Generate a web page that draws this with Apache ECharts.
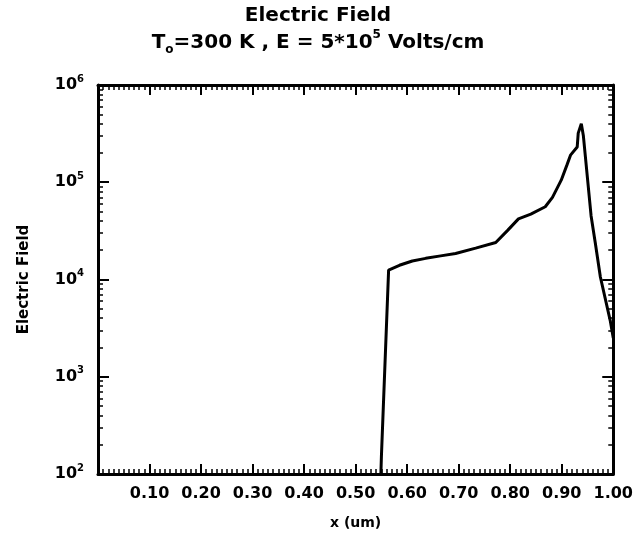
<!DOCTYPE html>
<html>
<head>
<meta charset="utf-8">
<script src="https://cdn.jsdelivr.net/npm/echarts@6/dist/echarts.min.js"></script>
<style>html,body{margin:0;padding:0;background:#fff;}#chart{width:636px;height:549px;}</style>
</head>
<body>
<div id="chart"></div>
<script>
// x position (um)
const xValues = [0.549, 0.550, 0.564, 0.585, 0.610, 0.636, 0.665, 0.694, 0.733, 0.772, 0.795, 0.816, 0.840, 0.868, 0.882, 0.899, 0.910, 0.917, 0.930, 0.932, 0.938, 0.942, 0.957, 0.965, 0.975, 0.994, 1.000];
// Electric field values
const fieldValues = [100, 150, 12500, 14000, 15500, 16500, 17500, 18500, 21000, 24000, 32000, 42000, 47000, 56000, 70000, 105000, 150000, 190000, 230000, 320000, 400000, 300000, 45000, 24000, 10600, 3800, 2500];
// axis tick labels
const xTickLabels = ['0.10','0.20','0.30','0.40','0.50','0.60','0.70','0.80','0.90','1.00'];
const yDecades = [100, 1000, 10000, 100000, 1000000];
// minor log ticks (2..9 times each decade)
const yMinorTicks = [200,300,400,500,600,700,800,900,2000,3000,4000,5000,6000,7000,8000,9000,20000,30000,40000,50000,60000,70000,80000,90000,200000,300000,400000,500000,600000,700000,800000,900000];

const FONT = 'DejaVu Sans';
const minorExp = yMinorTicks.map(v => Math.log10(v));

const chart = echarts.init(document.getElementById('chart'), null, {renderer: 'canvas'});
const axisLine = {show: true, onZero: false, lineStyle: {color: '#000', width: 3}};
function xAxisDef(pos, labels) {
  return {
    type: 'value', position: pos, min: 0, max: 1, interval: 0.1,
    axisLine: axisLine,
    axisTick: {show: true, inside: true, length: 10, lineStyle: {color: '#000', width: 2}},
    minorTick: {show: true, splitNumber: 10, length: 5, lineStyle: {color: '#000', width: 1.5}},
    splitLine: {show: false}, minorSplitLine: {show: false},
    axisLabel: labels ? {
      show: true, margin: 12, color: '#000', fontFamily: FONT, fontWeight: 'bold', fontSize: 16,
      formatter: v => { const i = Math.round(v * 10) - 1; return i >= 0 ? xTickLabels[i] : ''; }
    } : {show: false},
    name: labels ? 'x (um)' : '', nameLocation: 'middle', nameGap: 42,
    nameTextStyle: {color: '#000', fontFamily: FONT, fontWeight: 'bold', fontSize: 14}
  };
}
function yLogDef(pos, labels) {
  return {
    type: 'log', logBase: 10, position: pos, min: yDecades[0], max: yDecades[yDecades.length - 1],
    axisLine: axisLine,
    axisTick: {show: true, inside: true, length: 11, lineStyle: {color: '#000', width: 2}},
    splitLine: {show: false},
    axisLabel: labels ? {
      show: true, margin: 14, color: '#000', fontFamily: FONT, fontWeight: 'bold', fontSize: 16,
      formatter: v => '{b|10}{s|' + Math.round(Math.log10(v)) + '}',
      rich: {
        b: {fontFamily: FONT, fontWeight: 'bold', fontSize: 16, color: '#000', lineHeight: 22},
        s: {fontFamily: FONT, fontWeight: 'bold', fontSize: 10, color: '#000', verticalAlign: 'top', lineHeight: 22, padding: [0, 0, 8, 0]}
      }
    } : {show: false},
    name: labels ? 'Electric Field' : '', nameLocation: 'middle', nameGap: 66, nameRotate: 90,
    nameTextStyle: {color: '#000', fontFamily: FONT, fontWeight: 'bold', fontSize: 15}
  };
}
function yMinorDef(pos) {
  return {
    type: 'value', position: pos, min: 2, max: 6,
    axisLine: {show: false, onZero: false},
    axisTick: {show: true, inside: true, length: 5, customValues: minorExp, lineStyle: {color: '#000', width: 1.5}},
    axisLabel: {show: false}, splitLine: {show: false}
  };
}

chart.setOption({
  animation: false,
  backgroundColor: '#fff',
  title: {
    left: 'center', top: -3,
    text: '{a|Electric Field}\n{b|T}{sub|o}{b|=300 K , E = 5*10}{sup|5}{b| Volts/cm}',
    textStyle: {
      rich: {
        a: {fontFamily: FONT, fontWeight: 'bold', fontSize: 20, color: '#000', lineHeight: 27},
        b: {fontFamily: FONT, fontWeight: 'bold', fontSize: 20, color: '#000', lineHeight: 27},
        sub: {fontFamily: FONT, fontWeight: 'bold', fontSize: 12, color: '#000', lineHeight: 27, verticalAlign: 'bottom', padding: [8, 0, 0, 0]},
        sup: {fontFamily: FONT, fontWeight: 'bold', fontSize: 12, color: '#000', lineHeight: 27, verticalAlign: 'top', padding: [0, 0, 8, 0]}
      }
    }
  },
  grid: {left: 98, right: 21, top: 85, bottom: 75},
  xAxis: [xAxisDef('bottom', true), xAxisDef('top', false)],
  yAxis: [yLogDef('left', true), yLogDef('right', false), yMinorDef('left'), yMinorDef('right')],
  series: [{
    type: 'line', xAxisIndex: 0, yAxisIndex: 0,
    data: xValues.map((x, i) => [x, fieldValues[i]]),
    symbol: 'none', clip: true,
    lineStyle: {color: '#000', width: 3}
  }]
});
</script>
</body>
</html>
